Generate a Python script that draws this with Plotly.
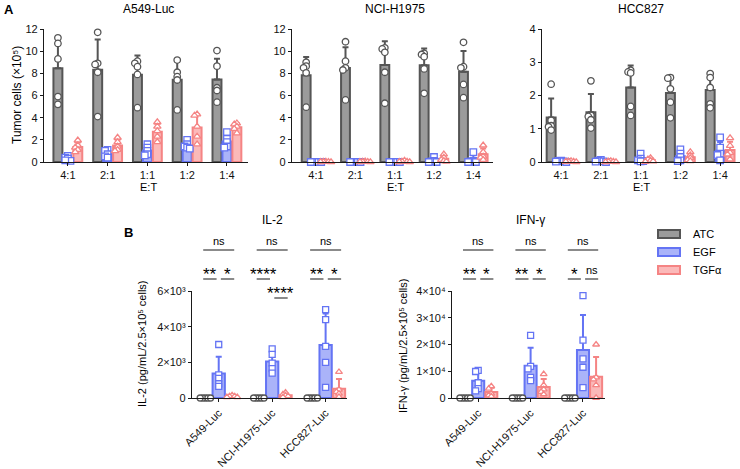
import numpy as np
import plotly.graph_objects as go

# ---------------- DATA ----------------
ratios = ["4:1", "2:1", "1:1", "1:2", "1:4"]
groups = ["ATC", "EGF", "TGFα"]
panel_a_titles = ["A549-Luc", "NCI-H1975", "HCC827"]

# Panel A: tumor cells (x10^5), 5 replicates per E:T ratio
a549_atc = [[11.2, 10.7, 9.3, 5.9, 5.2], [11.7, 8.9, 8.8, 8.1, 4.1], [9.1, 8.9, 8.6, 7.9, 4.9],
            [9.2, 8.1, 7.7, 7.4, 4.7], [10.05, 8.65, 6.7, 6.45, 5.4]]
a549_egf = [[0.55, 0.4, 0.3, 0.1, 0.15], [1.1, 1.0, 0.7, 0.5, 0.4], [1.6, 1.3, 1.0, 0.7, 0.6],
            [2.0, 1.6, 1.4, 1.3, 1.2], [2.7, 2.1, 1.8, 1.4, 1.3]]
a549_tgf = [[1.95, 1.5, 1.3, 1.1, 0.9], [2.2, 1.8, 1.4, 1.1, 1.0], [3.6, 3.2, 2.8, 2.3, 1.8],
            [4.3, 4.2, 3.2, 2.3, 1.6], [3.5, 3.4, 3.2, 3.0, 2.6]]

nci_atc = [[9.0, 8.65, 8.5, 8.05, 4.95], [10.85, 9.1, 8.5, 8.3, 5.6], [10.3, 10.2, 9.9, 8.1, 5.3],
           [9.8, 9.7, 9.5, 8.4, 6.2], [10.8, 8.6, 8.5, 7.0, 5.8]]
nci_egf = [[0.0, 0.0, 0.0, 0.0, 0.0], [0.0, 0.0, 0.0, 0.0, 0.0], [0.0, 0.0, 0.0, 0.0, 0.0],
           [0.45, 0.1, 0.05, 0.0, 0.0], [0.9, 0.1, 0.05, 0.0, 0.0]]
nci_tgf = [[0.05, 0.03, 0.02, 0.01, 0.0], [0.06, 0.04, 0.02, 0.01, 0.0], [0.12, 0.05, 0.03, 0.01, 0.0],
           [0.7, 0.4, 0.2, 0.1, 0.05], [1.5, 0.9, 0.5, 0.4, 0.2]]

hcc_atc = [[2.34, 1.25, 1.09, 1.06, 0.96], [2.44, 1.4, 1.37, 1.27, 1.02], [2.76, 2.71, 2.68, 1.67, 1.4],
           [2.54, 2.52, 2.2, 1.8, 1.33], [2.66, 2.54, 2.24, 1.75, 1.63]]
hcc_egf = [[0.04, 0.03, 0.02, 0.01, 0.0], [0.06, 0.04, 0.02, 0.01, 0.0], [0.25, 0.1, 0.05, 0.03, 0.02],
           [0.38, 0.25, 0.15, 0.05, 0.03], [0.74, 0.43, 0.25, 0.21, 0.05]]
hcc_tgf = [[0.03, 0.02, 0.01, 0.01, 0.0], [0.03, 0.02, 0.01, 0.0, 0.0], [0.12, 0.08, 0.04, 0.02, 0.01],
           [0.3, 0.2, 0.12, 0.06, 0.03], [0.72, 0.49, 0.28, 0.23, 0.08]]

a_yticks = [0, 2, 4, 6, 8, 10, 12]
a_yticks_hcc = [0, 1, 2, 3, 4]

# Panel B: cytokines (pg/mL/2.5x10^5 cells)
cell_lines = ["A549-Luc", "NCI-H1975-Luc", "HCC827-Luc"]
il2_atc = [[0, 0, 0, 0, 0], [0, 0, 0, 0, 0], [0, 0, 0, 0, 0]]
il2_egf = [[3000, 1300, 1100, 800, 650], [2750, 2450, 1950, 1650, 1400], [4950, 4400, 2900, 2000, 600]]
il2_tgf = [[150, 100, 100, 50, 50], [300, 200, 150, 100, 50], [1460, 470, 340, 240, 60]]
il2_ticks = [0, 2000, 4000, 6000]
il2_ticktext = ["0", "2×10³", "4×10³", "6×10³"]

ifng_atc = [[0, 0, 0, 0, 0], [0, 0, 0, 0, 0], [0, 0, 0, 0, 0]]
ifng_egf = [[10300, 9900, 5700, 3500, 2700], [23400, 11800, 10900, 7700, 6500], [38300, 21600, 14600, 11500, 3900]]
ifng_tgf = [[4400, 3500, 1600, 1000, 600], [8900, 4800, 3200, 2300, 1400], [20000, 7700, 7000, 4800, 100]]
ifng_ticks = [0, 10000, 20000, 30000, 40000]
ifng_ticktext = ["0", "1×10⁴", "2×10⁴", "3×10⁴", "4×10⁴"]

# significance labels per cell line: [ATC vs TGFα, ATC vs EGF, EGF vs TGFα]
il2_sig = [["ns", "**", "*"], ["ns", "****", "****"], ["ns", "**", "*"]]
ifng_sig = [["ns", "**", "*"], ["ns", "**", "*"], ["ns", "*", "ns"]]

# ---------------- STYLE ----------------
W, H = 740, 469
FONT = "Liberation Sans, Arial, Helvetica, DejaVu Sans, sans-serif"
line_col = {"ATC": "#555555", "EGF": "#6474f4", "TGFα": "#f58484"}
fill_col = {"ATC": "#9b9b9b", "EGF": "#aab3f9", "TGFα": "#fbb9b9"}
symbols = {"ATC": "circle", "EGF": "square", "TGFα": "triangle-up"}
offsets = [-0.25, 0.0, 0.25]
AXC = "#1a1a1a"


def pxx(p):
    return p / W


def pxy(p):
    return 1 - p / H


def swarm(vals, ypu, xpu, diam=2.6, step=2.6):
    order = sorted(range(len(vals)), key=lambda i: -vals[i])
    placed, offs = [], [0.0] * len(vals)
    for i in order:
        py = vals[i] * ypu
        px = 0.0
        for k in [0, -1, 1, -2, 2, -3, 3, -4, 4]:
            px = k * step
            if all((px - qx) ** 2 + (py - qy) ** 2 >= diam ** 2 - 1e-9 for qx, qy in placed):
                break
        placed.append((px, py))
        offs[i] = px / xpu
    return offs


fig = go.Figure()


def add_group_panel(xa, ya, data, ypu, xpu, bar_w, msize):
    for gi, g in enumerate(groups):
        reps = data[gi]
        means = [float(np.mean(r)) for r in reps]
        sds = [float(np.std(r, ddof=1)) for r in reps]
        xs = [i + offsets[gi] for i in range(len(reps))]
        fig.add_trace(go.Bar(
            x=xs, y=means, width=bar_w, xaxis=xa, yaxis=ya, name=g, showlegend=False,
            marker=dict(color=fill_col[g], line=dict(color=line_col[g], width=2)),
            error_y=dict(type="data", symmetric=False, array=sds, arrayminus=[0] * len(sds),
                         color=line_col[g], thickness=2, width=3),
        ))
        px_, py_ = [], []
        for i, r in enumerate(reps):
            offs = swarm(r, ypu, xpu)
            for v, o in zip(r, offs):
                px_.append(i + offsets[gi] + o)
                py_.append(v)
        fig.add_trace(go.Scatter(
            x=px_, y=py_, mode="markers", xaxis=xa, yaxis=ya, name=g, showlegend=False,
            cliponaxis=False,
            marker=dict(symbol=symbols[g], size=msize, color="white",
                        line=dict(width=1.3, color=line_col[g])),
        ))


# ----- Panel A -----
a_sets = [(a549_atc, a549_egf, a549_tgf), (nci_atc, nci_egf, nci_tgf), (hcc_atc, hcc_egf, hcc_tgf)]
a_dom_px = [(44, 248), (292, 493), (542, 740)]
a_ranges = [[-0.6, 4.53], [-0.61, 4.5], [-0.48, 4.5]]
a_ymax = [12, 12, 4]
a_top, a_bot = 29, 162
for k in range(3):
    xa = "x" if k == 0 else f"x{k + 1}"
    ya = "y" if k == 0 else f"y{k + 1}"
    ypu = (a_bot - a_top) / a_ymax[k]
    xpu = (a_dom_px[k][1] - a_dom_px[k][0]) / (a_ranges[k][1] - a_ranges[k][0])
    add_group_panel(xa, ya, a_sets[k], ypu, xpu, 0.225, 6.5)

# ----- Panel B -----
b_sets = [(il2_atc, il2_egf, il2_tgf), (ifng_atc, ifng_egf, ifng_tgf)]
b_dom_px = [(192, 347), (452, 605)]
b_ranges = [[-0.5, 2.4], [-0.5, 2.42]]
b_ymax = [6000, 40000]
b_top, b_bot = 291, 398
for k in range(2):
    xa, ya = f"x{k + 4}", f"y{k + 4}"
    ypu = (b_bot - b_top) / b_ymax[k]
    xpu = (b_dom_px[k][1] - b_dom_px[k][0]) / (b_ranges[k][1] - b_ranges[k][0])
    add_group_panel(xa, ya, b_sets[k], ypu, xpu, 0.23, 6)

tickfont = dict(family=FONT, size=11, color="#111")
axis_common = dict(showline=True, linecolor=AXC, linewidth=1.3, ticks="outside", ticklen=3,
                   tickwidth=1.3, tickcolor=AXC, showgrid=False, zeroline=False, fixedrange=True,
                   automargin=False)

layout = dict(width=W, height=H, margin=dict(l=0, r=0, t=0, b=0, pad=0, autoexpand=False),
              autosize=False, paper_bgcolor="white", plot_bgcolor="white", barmode="overlay",
              showlegend=False, font=dict(family=FONT, size=11, color="#111"))

for k in range(3):
    xn = "xaxis" if k == 0 else f"xaxis{k + 1}"
    yn = "yaxis" if k == 0 else f"yaxis{k + 1}"
    ya = "y" if k == 0 else f"y{k + 1}"
    xa = "x" if k == 0 else f"x{k + 1}"
    layout[xn] = dict(axis_common, domain=[pxx(a_dom_px[k][0]), pxx(a_dom_px[k][1])], range=a_ranges[k],
                      tickvals=list(range(len(ratios))), ticktext=ratios, anchor=ya, tickfont=tickfont)
    layout[yn] = dict(axis_common, domain=[pxy(a_bot), pxy(a_top)], range=[0, a_ymax[k]],
                      tickvals=a_yticks if a_ymax[k] == 12 else a_yticks_hcc, anchor=xa, tickfont=tickfont)

for k in range(2):
    xn, yn = f"xaxis{k + 4}", f"yaxis{k + 4}"
    layout[xn] = dict(axis_common, domain=[pxx(b_dom_px[k][0]), pxx(b_dom_px[k][1])], range=b_ranges[k],
                      tickvals=list(range(len(cell_lines))), ticktext=cell_lines, tickangle=-45,
                      anchor=f"y{k + 4}", tickfont=dict(family=FONT, size=11, color="#111"))
    layout[yn] = dict(axis_common, domain=[pxy(b_bot), pxy(b_top)], range=[0, b_ymax[k]],
                      tickvals=il2_ticks if k == 0 else ifng_ticks,
                      ticktext=il2_ticktext if k == 0 else ifng_ticktext,
                      anchor=f"x{k + 4}", tickfont=dict(family=FONT, size=11, color="#111"))

fig.update_layout(**layout)

ann = []
shapes = []


def text(x, y, s, size=11, bold=False, xanchor="center", angle=0, xref="paper"):
    ann.append(dict(x=x, y=y, xref=xref, yref="paper", text=f"<b>{s}</b>" if bold else s,
                    showarrow=False, xanchor=xanchor, yanchor="middle", textangle=angle,
                    font=dict(family=FONT, size=size, color="#000")))


# panel letters / titles
text(pxx(2), pxy(9), "A", size=13, bold=True, xanchor="left")
text(pxx(122), pxy(232), "B", size=13, bold=True, xanchor="left")
for k, cx in enumerate([148, 395, 641]):
    text(pxx(cx), pxy(9), panel_a_titles[k], size=12)
    text(pxx(cx), pxy(187), "E:T", size=11)
text(pxx(17), pxy(95), "Tumor cells (×10⁵)", size=12, angle=-90)
text(pxx(272), pxy(220), "IL-2", size=12)
text(pxx(530), pxy(220), "IFN-γ", size=12)
text(pxx(142), pxy(344), "IL-2 (pg/mL/2.5×10⁵ cells)", size=11, angle=-90)
text(pxx(403), pxy(346), "IFN-γ (pg/mL/2.5×10⁵ cells)", size=11, angle=-90)

# significance brackets
row_line_px = [250, 279, 298]
sig_rows = [[[0, 1, 1], [0, 1, 2], [0, 1, 1]], [[0, 1, 1], [0, 1, 1], [0, 1, 1]]]
spans = [(-0.29, 0.29), (-0.29, -0.04), (0.04, 0.29)]
for k, sig in enumerate([il2_sig, ifng_sig]):
    xr = f"x{k + 4}"
    for ci, labels in enumerate(sig):
        for j, lab in enumerate(labels):
            row = sig_rows[k][ci][j]
            ly = row_line_px[row]
            x0, x1 = ci + spans[j][0], ci + spans[j][1]
            shapes.append(dict(type="line", xref=xr, yref="paper", x0=x0, x1=x1,
                               y0=pxy(ly), y1=pxy(ly), line=dict(color="#6e6e6e", width=1.6)))
            if lab == "ns":
                text((x0 + x1) / 2, pxy(ly - 9), lab, size=11, xref=xr)
            else:
                text((x0 + x1) / 2, pxy(ly - 5), lab, size=17, xref=xr)

# legend
for gi, g in enumerate(groups):
    cy = 234 + 18 * gi
    shapes.append(dict(type="rect", xref="paper", yref="paper", x0=pxx(658), x1=pxx(680),
                       y0=pxy(cy + 4), y1=pxy(cy - 4), fillcolor=fill_col[g],
                       line=dict(color=line_col[g], width=2)))
    text(pxx(691), pxy(cy), g, size=11, xanchor="left")

fig.update_layout(annotations=ann, shapes=shapes)
fig.write_html("out.html", config={"displayModeBar": False},
               post_script="document.body.style.margin='0px';document.body.style.overflow='hidden';")
